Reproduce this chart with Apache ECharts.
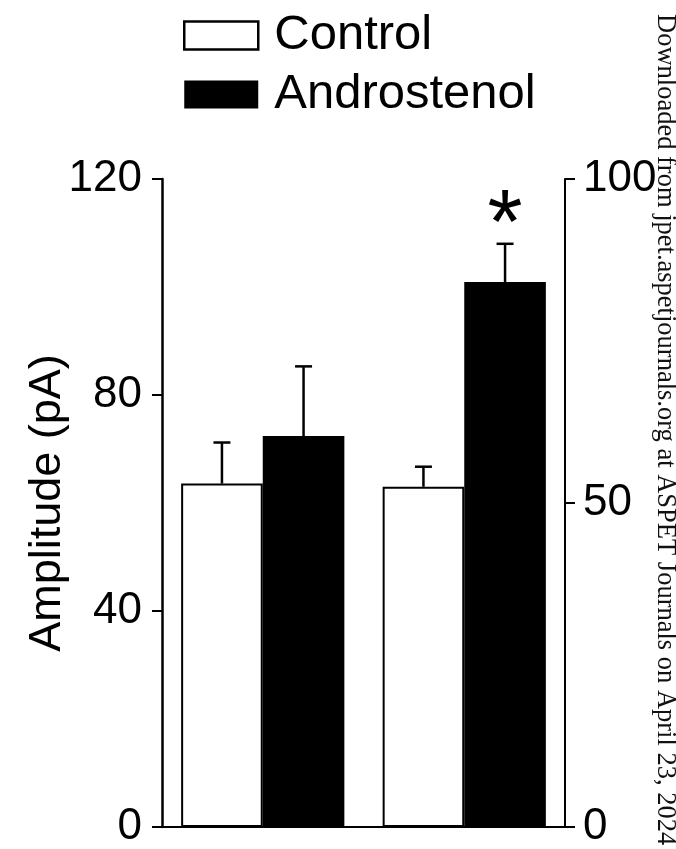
<!DOCTYPE html>
<html>
<head>
<meta charset="utf-8">
<script src="https://cdn.jsdelivr.net/npm/echarts@6/dist/echarts.min.js"></script>
<style>
html,body{margin:0;padding:0;background:#fff;}
#chart{width:676px;height:849px;}
</style>
</head>
<body>
<div id="chart"></div>
<script>
// ---- data ----
var categories = ['Group 1', 'Group 2'];
var seriesNames = ['Control', 'Androstenol'];
var controlMean = [63.6, 52.5];
var controlErr = [7.6, 3.1];
var androMean = [72.4, 84.1];
var androErr = [12.9, 5.9];
var groupAxis = [0, 1];          // group 1 read on left axis, group 2 on right axis
var significance = ['', '*'];
var leftTicks = [0, 40, 80, 120];
var rightTicks = [0, 50, 100];

var FONT = 'Liberation Sans, Arial, Helvetica, sans-serif';
var CAT_GAP = 0.19;

var chart = echarts.init(document.getElementById('chart'));

function pick(arr, axis) {
  return arr.map(function (v, i) { return groupAxis[i] === axis ? v : '-'; });
}
var errRows = [[], []];
var errSig = [[], []];
for (var i = 0; i < categories.length; i++) {
  var ax = groupAxis[i];
  errRows[ax].push([i, controlMean[i], controlErr[i], -1]);
  errSig[ax].push('');
  errRows[ax].push([i, androMean[i], androErr[i], 1]);
  errSig[ax].push(significance[i]);
}
function makeRender(ax) {
  return function (params, api) {
    var idx = api.value(0), m = api.value(1), e = api.value(2), side = api.value(3);
    var sig = errSig[ax][params.dataIndex];
    var band = api.size([1, 0])[0];
    var bw = band * (1 - CAT_GAP) / 2;
    var base = api.coord([idx, m]);
    var topP = api.coord([idx, m + e]);
    var x = base[0] + side * bw / 2;
    var children = [
      {type: 'line', shape: {x1: x, y1: base[1], x2: x, y2: topP[1]}, style: {stroke: '#000', lineWidth: 2.5}},
      {type: 'line', shape: {x1: x - 8.5, y1: topP[1], x2: x + 8.5, y2: topP[1]}, style: {stroke: '#000', lineWidth: 2.5}}
    ];
    if (sig) {
      children.push({type: 'text', style: {text: sig, x: x, y: topP[1] - 61, align: 'center', verticalAlign: 'top',
        font: '90px ' + FONT, fill: '#000'}});
    }
    return {type: 'group', children: children};
  };
}

var barStyles = [
  {color: '#ffffff', borderColor: '#000', borderWidth: 2},
  {color: '#000000', borderColor: '#000', borderWidth: 0}
];

var series = [];
[0, 1].forEach(function (ax) {
  series.push({name: seriesNames[0], type: 'bar', xAxisIndex: ax, yAxisIndex: ax, data: pick(controlMean, ax),
    barGap: 0, barCategoryGap: (CAT_GAP * 100) + '%', itemStyle: barStyles[0], silent: true});
  series.push({name: seriesNames[1], type: 'bar', xAxisIndex: ax, yAxisIndex: ax, data: pick(androMean, ax),
    barGap: 0, barCategoryGap: (CAT_GAP * 100) + '%', itemStyle: barStyles[1], silent: true});
  series.push({type: 'custom', xAxisIndex: ax, yAxisIndex: ax, data: errRows[ax], renderItem: makeRender(ax), z: 5, silent: true,
    encode: {x: 0, y: 1}, clip: false});
});

var option = {
  animation: false,
  backgroundColor: '#fff',
  grid: {left: 162, right: 111, top: 179, bottom: 20},
  legend: {
    orient: 'vertical', left: 178, top: 6,
    itemWidth: 74, itemHeight: 28, itemGap: 10,
    icon: 'rect',
    data: [
      {name: seriesNames[0], itemStyle: {color: '#fff', borderColor: '#000', borderWidth: 2.5}},
      {name: seriesNames[1], itemStyle: {color: '#000', borderWidth: 0}}
    ],
    textStyle: {fontFamily: FONT, fontSize: 49, color: '#000', lineHeight: 32, padding: [0, 0, 0, 11]},
    selectedMode: false
  },
  xAxis: [
    {type: 'category', data: categories, axisLine: {lineStyle: {color: '#000', width: 2}}, axisTick: {show: false}, axisLabel: {show: false}},
    {type: 'category', data: categories, show: false}
  ],
  yAxis: [
    {type: 'value', min: leftTicks[0], max: leftTicks[leftTicks.length - 1], interval: leftTicks[1] - leftTicks[0],
      name: 'Amplitude (pA)', nameLocation: 'middle', nameGap: 92, nameMoveOverlap: false,
      nameTextStyle: {fontFamily: FONT, fontSize: 45, color: '#000'},
      axisLine: {show: true, lineStyle: {color: '#000', width: 2.5}},
      axisTick: {show: true, length: 10, lineStyle: {color: '#000', width: 2}},
      axisLabel: {fontFamily: FONT, fontSize: 44, color: '#000', margin: 20},
      splitLine: {show: false}},
    {type: 'value', position: 'right', min: rightTicks[0], max: rightTicks[rightTicks.length - 1], interval: rightTicks[1] - rightTicks[0],
      axisLine: {show: true, lineStyle: {color: '#000', width: 2}},
      axisTick: {show: true, length: 10, lineStyle: {color: '#000', width: 2}},
      axisLabel: {fontFamily: FONT, fontSize: 44, color: '#000', margin: 18},
      splitLine: {show: false}}
  ],
  graphic: [{
    type: 'text', x: 665, y: 14, rotation: -Math.PI / 2,
    style: {text: 'Downloaded from jpet.aspetjournals.org at ASPET Journals on April 23, 2024',
      font: '26.5px Liberation Serif, Times New Roman, serif', fill: '#111', align: 'left', verticalAlign: 'middle'},
    silent: true
  }],
  series: series
};
chart.setOption(option);
</script>
</body>
</html>
